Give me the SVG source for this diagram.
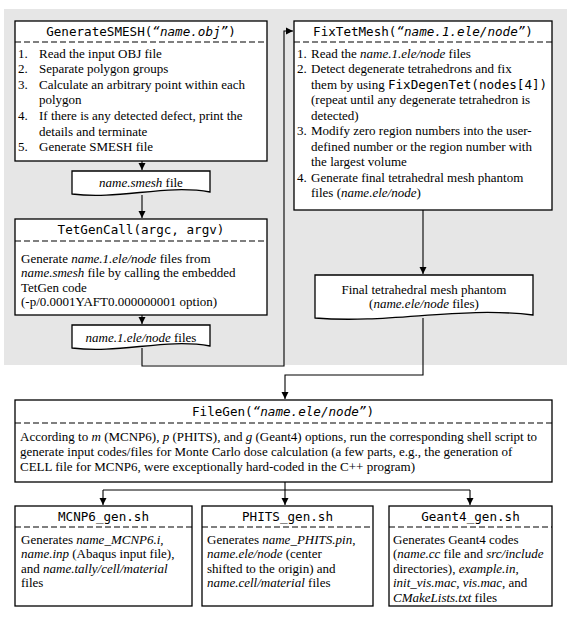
<svg xmlns="http://www.w3.org/2000/svg" width="575" height="624" viewBox="0 0 575 624">
<defs>
<marker id="ah" markerWidth="8" markerHeight="8" refX="7" refY="4" orient="auto" markerUnits="userSpaceOnUse">
<path d="M0,0.5 L7,4 L0,7.5 Z" fill="#000"/>
</marker>
<style>
.box{fill:#fff;stroke:#000;stroke-width:1.3}
.dash{stroke:#000;stroke-width:1.2;stroke-dasharray:6,3;fill:none}
.t{font-family:"Liberation Serif","Times New Roman",serif;font-size:13px;fill:#000}
.m{font-family:"DejaVu Sans Mono","Liberation Mono",monospace;font-size:12.6px;fill:#000}
.mi{font-family:"DejaVu Sans Mono","Liberation Mono",monospace;font-style:italic}
.i{font-style:italic}
.c{text-anchor:middle}
.ln{fill:none;stroke:#000;stroke-width:1.1}
</style>
</defs>
<rect x="4" y="9" width="563" height="356" fill="#e6e6e6"/>

<g id="connectors">
<path class="ln" d="M142,161 V170" marker-end="url(#ah)"/>
<path class="ln" d="M142,195 V218" marker-end="url(#ah)"/>
<path class="ln" d="M142,315 V324" marker-end="url(#ah)"/>
<path class="ln" d="M142,348 V366 H284 V31 H293" marker-end="url(#ah)"/>
<path class="ln" d="M423,210 V274" marker-end="url(#ah)"/>
<path class="ln" d="M423,318 V375 H285 V399" marker-end="url(#ah)"/>
<path class="ln" d="M285,482 V490 H103 M285,490 H470"/>
<path class="ln" d="M103,490 V505" marker-end="url(#ah)"/>
<path class="ln" d="M285,490 V505" marker-end="url(#ah)"/>
<path class="ln" d="M470,490 V505" marker-end="url(#ah)"/>
</g>

<g id="generateSMESH">
<rect class="box" x="15" y="21" width="252" height="140"/>
<line class="dash" x1="15" y1="42" x2="267" y2="42"/>
<text class="m c" x="141" y="36">GenerateSMESH(<tspan class="mi">“name.obj”</tspan>)</text>
<text class="t" x="18" y="57.5">1.</text><text class="t" x="39" y="57.5">Read the input OBJ file</text>
<text class="t" x="18" y="73.1">2.</text><text class="t" x="39" y="73.1">Separate polygon groups</text>
<text class="t" x="18" y="88.7">3.</text><text class="t" x="39" y="88.7">Calculate an arbitrary point within each</text>
<text class="t" x="39" y="104.3">polygon</text>
<text class="t" x="18" y="119.9">4.</text><text class="t" x="39" y="119.9">If there is any detected defect, print the</text>
<text class="t" x="39" y="135.5">details and terminate</text>
<text class="t" x="18" y="151.1">5.</text><text class="t" x="39" y="151.1">Generate SMESH file</text>
</g>

<g id="smeshFile">
<path class="box" d="M72,171 H210 V192 C165,184 120,200 72,194 Z"/>
<text class="t c" x="141" y="187"><tspan class="i">name.smesh</tspan> file</text>
</g>

<g id="tetGenCall">
<rect class="box" x="15" y="219" width="252" height="96"/>
<line class="dash" x1="15" y1="241" x2="267" y2="241"/>
<text class="m c" x="141" y="234">TetGenCall(argc, argv)</text>
<text class="t" x="21" y="262.5">Generate <tspan class="i">name.1.ele/node</tspan> files from</text>
<text class="t" x="21" y="277"><tspan class="i">name.smesh</tspan> file by calling the embedded</text>
<text class="t" x="21" y="291.5">TetGen code</text>
<text class="t" x="21" y="306">(-p/0.0001YAFT0.000000001 option)</text>
</g>

<g id="eleNodeFiles">
<path class="box" d="M72,325 H210 V346 C165,338 120,354 72,348 Z"/>
<text class="t c" x="141" y="342"><tspan class="i">name.1.ele/node</tspan> files</text>
</g>

<g id="fixTetMesh">
<rect class="box" x="294" y="21" width="258" height="189"/>
<line class="dash" x1="294" y1="42" x2="552" y2="42"/>
<text class="m c" x="423" y="36">FixTetMesh(<tspan class="mi">“name.1.ele/node”</tspan>)</text>
<text class="t" x="297" y="57.5">1.</text><text class="t" x="311" y="57.5">Read the <tspan class="i">name.1.ele/node</tspan> files</text>
<text class="t" x="297" y="73">2.</text><text class="t" x="311" y="73">Detect degenerate tetrahedrons and fix</text>
<text class="t" x="311" y="88.5">them by using <tspan class="m" style="font-size:12.6px">FixDegenTet(nodes[4])</tspan></text>
<text class="t" x="311" y="104">(repeat until any degenerate tetrahedron is</text>
<text class="t" x="311" y="119.5">detected)</text>
<text class="t" x="297" y="135">3.</text><text class="t" x="311" y="135">Modify zero region numbers into the user-</text>
<text class="t" x="311" y="150.5">defined number or the region number with</text>
<text class="t" x="311" y="166">the largest volume</text>
<text class="t" x="297" y="181.5">4.</text><text class="t" x="311" y="181.5">Generate final tetrahedral mesh phantom</text>
<text class="t" x="311" y="197">files (<tspan class="i">name.ele/node</tspan>)</text>
</g>

<g id="finalPhantom">
<path class="box" d="M315,275 H533 V315 C460,306 390,324 315,318 Z"/>
<text class="t c" x="424" y="294">Final tetrahedral mesh phantom</text>
<text class="t c" x="424" y="308">(<tspan class="i">name.ele/node</tspan> files)</text>
</g>

<g id="fileGen">
<rect class="box" x="15" y="400" width="537" height="82"/>
<line class="dash" x1="15" y1="423" x2="552" y2="423"/>
<text class="m c" x="283" y="416">FileGen(<tspan class="mi">“name.ele/node”</tspan>)</text>
<text class="t" x="20" y="441">According to <tspan class="i">m</tspan> (MCNP6), <tspan class="i">p</tspan> (PHITS), and <tspan class="i">g</tspan> (Geant4) options, run the corresponding shell script to</text>
<text class="t" x="20" y="456">generate input codes/files for Monte Carlo dose calculation (a few parts, e.g., the generation of</text>
<text class="t" x="20" y="471">CELL file for MCNP6, were exceptionally hard-coded in the C++ program)</text>
</g>

<g id="mcnp6">
<rect class="box" x="15" y="506" width="177" height="100"/>
<line class="dash" x1="15" y1="527" x2="192" y2="527"/>
<text class="m c" x="103.5" y="521">MCNP6_gen.sh</text>
<text class="t" x="21" y="543.5">Generates <tspan class="i">name_MCNP6.i,</tspan></text>
<text class="t" x="21" y="558"><tspan class="i">name.inp</tspan> (Abaqus input file),</text>
<text class="t" x="21" y="572.5">and <tspan class="i">name.tally/cell/material</tspan></text>
<text class="t" x="21" y="587">files</text>
</g>

<g id="phits">
<rect class="box" x="202" y="506" width="171" height="100"/>
<line class="dash" x1="202" y1="527" x2="373" y2="527"/>
<text class="m c" x="287.5" y="521">PHITS_gen.sh</text>
<text class="t" x="207" y="543.5">Generates <tspan class="i">name_PHITS.pin</tspan>,</text>
<text class="t" x="207" y="558"><tspan class="i">name.ele/node</tspan> (center</text>
<text class="t" x="207" y="572.5">shifted to the origin) and</text>
<text class="t" x="207" y="587"><tspan class="i">name.cell/material</tspan> files</text>
</g>

<g id="geant4">
<rect class="box" x="389" y="506" width="163" height="100"/>
<line class="dash" x1="389" y1="527" x2="552" y2="527"/>
<text class="m c" x="470.5" y="521">Geant4_gen.sh</text>
<text class="t" x="393" y="543.5">Generates Geant4 codes</text>
<text class="t" x="393" y="558">(<tspan class="i">name.cc</tspan> file and <tspan class="i">src/include</tspan></text>
<text class="t" x="393" y="572.5">directories), <tspan class="i">example.in</tspan>,</text>
<text class="t" x="393" y="587"><tspan class="i">init_vis.mac</tspan>, <tspan class="i">vis.mac</tspan>, and</text>
<text class="t" x="393" y="601.5"><tspan class="i">CMakeLists.txt</tspan> files</text>
</g>
</svg>
